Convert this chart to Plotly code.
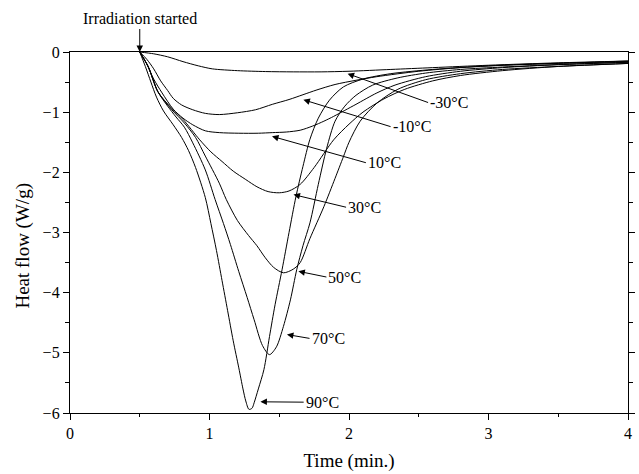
import plotly.graph_objects as go

# DSC photo-calorimetry: heat flow after irradiation at different temperatures
labels = ["-30°C", "-10°C", "10°C", "30°C", "50°C", "70°C", "90°C"]

time_m30 = [0.5, 0.6, 0.7, 0.81, 0.92, 1.02, 1.2, 1.4, 1.6, 1.8, 2.0, 2.3, 2.6, 3.0, 3.5, 4.0]
heat_m30 = [0, -0.03, -0.08, -0.16, -0.23, -0.28, -0.31, -0.325, -0.33, -0.33, -0.32, -0.29, -0.26, -0.22, -0.18, -0.15]

time_m10 = [0.5, 0.55, 0.6, 0.65, 0.7, 0.74, 0.8, 0.88, 0.97, 1.07, 1.2, 1.33, 1.45, 1.57, 1.67, 1.77,
            1.9, 2.05, 2.2, 2.5, 2.8, 3.2, 3.6, 4.0]
heat_m10 = [0, -0.12, -0.28, -0.48, -0.64, -0.77, -0.88, -0.96, -1.02, -1.04, -1.01, -0.96, -0.87, -0.79, -0.71, -0.63,
            -0.54, -0.47, -0.41, -0.32, -0.26, -0.21, -0.18, -0.16]

time_10 = [0.5, 0.55, 0.6, 0.66, 0.74, 0.81, 0.88, 0.97, 1.07, 1.21, 1.35, 1.45, 1.55, 1.65, 1.74, 1.82,
           1.89, 1.97, 2.05, 2.2, 2.33, 2.55, 2.8, 3.1, 3.5, 4.0]
heat_10 = [0, -0.2, -0.45, -0.68, -0.95, -1.1, -1.21, -1.31, -1.34, -1.35, -1.35, -1.34, -1.33, -1.3, -1.23, -1.15,
           -1.07, -0.97, -0.87, -0.68, -0.55, -0.41, -0.32, -0.26, -0.21, -0.17]

time_30 = [0.5, 0.56, 0.63, 0.73, 0.81, 0.93, 1.01, 1.09, 1.17, 1.26, 1.34, 1.42, 1.5, 1.57, 1.65, 1.75,
           1.89, 2.0, 2.1, 2.25, 2.4, 2.6, 2.8, 3.1, 3.5, 4.0]
heat_30 = [0, -0.24, -0.66, -0.94, -1.12, -1.46, -1.66, -1.82, -1.98, -2.12, -2.24, -2.32, -2.34, -2.31, -2.2, -1.92,
           -1.46, -1.2, -1.0, -0.78, -0.62, -0.48, -0.39, -0.31, -0.24, -0.19]

time_50 = [0.5, 0.56, 0.63, 0.73, 0.82, 0.9, 0.97, 1.07, 1.12, 1.2, 1.28, 1.34, 1.4, 1.46, 1.53, 1.6,
           1.65, 1.72, 1.82, 1.9, 1.96, 2.0, 2.08, 2.2, 2.35, 2.55, 2.8, 3.1, 3.5, 4.0]
heat_50 = [0, -0.24, -0.66, -0.96, -1.18, -1.42, -1.73, -2.18, -2.45, -2.8, -3.05, -3.22, -3.42, -3.58, -3.67, -3.61,
           -3.5, -3.1, -2.57, -2.1, -1.74, -1.5, -1.15, -0.85, -0.62, -0.46, -0.36, -0.29, -0.24, -0.19]

time_70 = [0.5, 0.56, 0.63, 0.7, 0.76, 0.82, 0.88, 0.97, 1.04, 1.1, 1.15, 1.21, 1.27, 1.32, 1.38, 1.43,
           1.48, 1.53, 1.58, 1.625, 1.67, 1.72, 1.78, 1.84, 1.9, 1.97, 2.05, 2.17, 2.35, 2.55, 2.8, 3.1, 3.5, 4.0]
heat_70 = [0, -0.24, -0.66, -0.9, -1.08, -1.25, -1.51, -1.96, -2.45, -2.85, -3.2, -3.65, -4.08, -4.45, -4.88, -5.03,
           -4.9, -4.56, -4.12, -3.62, -3.22, -2.84, -2.2, -1.6, -1.15, -0.9, -0.72, -0.55, -0.43, -0.35, -0.29, -0.25, -0.21, -0.17]

time_90 = [0.5, 0.54, 0.58, 0.62, 0.67, 0.74, 0.8, 0.85, 0.9, 0.97, 1.01, 1.05, 1.09, 1.13, 1.17, 1.21,
           1.24, 1.26, 1.283, 1.305, 1.32, 1.35, 1.39, 1.43, 1.47, 1.52, 1.57, 1.62, 1.67, 1.72, 1.78, 1.86,
           1.96, 2.1, 2.3, 2.6, 3.0, 3.5, 4.0]
heat_90 = [0, -0.24, -0.5, -0.75, -0.98, -1.21, -1.42, -1.64, -1.92, -2.42, -2.85, -3.3, -3.8, -4.3, -4.8, -5.25,
           -5.6, -5.8, -5.94, -5.92, -5.83, -5.6, -5.28, -4.73, -4.2, -3.62, -3.0, -2.4, -1.9, -1.45, -1.1, -0.8,
           -0.58, -0.45, -0.36, -0.29, -0.23, -0.19, -0.15]

series_time = [time_m30, time_m10, time_10, time_30, time_50, time_70, time_90]
series_heat = [heat_m30, heat_m10, heat_10, heat_30, heat_50, heat_70, heat_90]

# label placement: arrow tip (on curve) and text anchor, in data units
arrow_tip_t = [1.99, 1.673, 1.448, 1.602, 1.637, 1.555, 1.365]
arrow_tip_h = [-0.36, -0.794, -1.402, -2.37, -3.645, -4.696, -5.814]
label_t = [2.567, 2.298, 2.121, 1.979, 1.838, 1.717, 1.675]
label_h = [-0.84, -1.24, -1.84, -2.58, -3.74, -4.76, -5.82]

FONT = "Liberation Serif, Times New Roman, serif"

fig = go.Figure()
for t, h, name in zip(series_time, series_heat, labels):
    fig.add_trace(go.Scatter(
        x=t, y=h, mode="lines", name=name,
        line=dict(color="black", width=1, shape="spline", smoothing=0.8),
        showlegend=False,
    ))

annotations = []
for name, tx, ty, lx, ly in zip(labels, arrow_tip_t, arrow_tip_h, label_t, label_h):
    annotations.append(dict(
        x=tx, y=ty, ax=lx, ay=ly, axref="x", ayref="y", xref="x", yref="y",
        text=name, showarrow=True, arrowhead=2, arrowsize=1.3, arrowwidth=1,
        arrowcolor="black", xanchor="left", yanchor="middle",
        font=dict(family=FONT, size=16, color="black"),
    ))

annotations.append(dict(
    x=0.5, y=0, xref="x", yref="y", ax=0, ay=-23,
    text="Irradiation started", showarrow=True, arrowhead=2, arrowsize=1.3,
    arrowwidth=1, arrowcolor="black", yanchor="bottom",
    font=dict(family=FONT, size=16, color="black"),
))

# y-axis title, placed by pixel position (x=22, y=246 from the top) in paper units
plot_w, plot_h = 639 - 70 - 4, 474 - 52 - 61
annotations.append(dict(
    x=(22 - 70) / plot_w, y=(474 - 61 - 246) / plot_h, xref="paper", yref="paper",
    xanchor="center", yanchor="middle", text="Heat flow (W/g)", showarrow=False,
    textangle=-90, font=dict(family=FONT, size=19, color="black"),
))

fig.update_layout(
    width=639, height=474,
    margin=dict(l=70, r=4, t=52, b=61),
    paper_bgcolor="white", plot_bgcolor="white",
    font=dict(family=FONT, size=16, color="black"),
    annotations=annotations,
)

fig.update_xaxes(
    range=[0, 4], tickvals=[0, 1, 2, 3, 4], ticks="outside", ticklen=6, tickwidth=1,
    tickcolor="black", showline=True, linecolor="black", linewidth=1.3, mirror=True,
    showgrid=False, zeroline=False,
    minor=dict(dtick=0.5, tick0=0, ticks="outside", ticklen=3, tickwidth=1, tickcolor="black"),
    tickfont=dict(family=FONT, size=16),
    title=dict(text="Time (min.)", font=dict(family=FONT, size=19), standoff=12),
)

fig.update_yaxes(
    range=[-6, 0], tickvals=[0, -1, -2, -3, -4, -5, -6], ticks="outside", ticklen=6, tickwidth=1,
    tickcolor="black", showline=True, linecolor="black", linewidth=1.3, mirror="ticks",
    showgrid=False, zeroline=False,
    minor=dict(dtick=0.5, tick0=0, ticks="outside", ticklen=4, tickwidth=1, tickcolor="black"),
    tickfont=dict(family=FONT, size=16),
)

fig.write_html("out.html")
